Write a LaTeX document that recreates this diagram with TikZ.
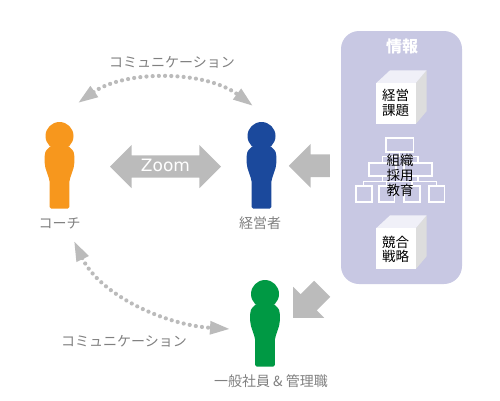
\documentclass[tikz,border=0pt]{standalone}
\usepackage{fontspec}
\setmainfont{Noto Sans CJK JP}
\newfontfamily\latinfont{DejaVu Sans}
\usepackage{tikz}
\usetikzlibrary{
  arrows.meta,
  positioning,
  shapes.arrows
}
\definecolor{coachorange}{RGB}{247,151,29}
\definecolor{ceoblue}{RGB}{27,73,156}
\definecolor{staffgreen}{RGB}{0,153,68}
\definecolor{panelblue}{RGB}{200,200,227}
\definecolor{arrowgray}{RGB}{187,187,187}
\definecolor{labelgray}{RGB}{128,128,128}
\definecolor{sidegray}{RGB}{221,221,221}
\definecolor{topwhite}{RGB}{240,240,248}

\tikzset{
  label/.style={text=labelgray, font=\fontsize{14}{14}\selectfont, inner sep=0pt},
  boxtext/.style={text=black, font=\fontsize{13.5}{14.7}\selectfont, align=center, inner sep=0pt},
  bigarrow/.style={single arrow, fill=arrowgray, inner sep=0pt, minimum height=41pt,
    minimum width=43pt, single arrow head extend=10.5pt, single arrow tip angle=90, anchor=tip},
  talk/.style={arrowgray, line width=4.2pt, line cap=round, dash pattern=on 0pt off 6.2pt,
    {Triangle[length=20pt,width=12.5pt]}-{Triangle[length=20pt,width=12.5pt]}},
  orgbox/.style={draw=white, line width=1.8pt, inner sep=0pt},
  orgline/.style={draw=white, line width=1.2pt}
}

% figure of one person, head centre at #2
\newcommand{\personfig}[3]{
  \coordinate (#1) at (#2);
  \begin{scope}[shift={(#2)}]
    \fill[#3] (0,0) circle (14);
    \fill[#3] (-9.5,10.5) .. controls (-11,13) and (-14.8,13.5) .. (-14.8,20)
      -- (-14.8,27) .. controls (-14.8,33) and (-10.5,40) .. (-9.8,46)
      -- (-9.8,71) .. controls (-9.8,72) and (-9.3,72.5) .. (-8.3,72.5)
      -- (8.3,72.5) .. controls (9.3,72.5) and (9.8,72) .. (9.8,71)
      -- (9.8,46) .. controls (10.5,40) and (14.8,33) .. (14.8,27)
      -- (14.8,20) .. controls (14.8,13.5) and (11,13) .. (9.5,10.5) -- cycle;
  \end{scope}
}

% box with depth
\newcommand{\cubefig}[2]{
  \fill[sidegray] (#1,#2) ++(39.5,0) -- ++(11,-13) -- ++(0,41) -- ++(-11,13) -- cycle;
  \fill[topwhite] (#1,#2) -- ++(14,-13) -- ++(36.5,0) -- ++(-11,13) -- cycle;
  \fill[white] (#1,#2) rectangle ++(39.5,41);
}

\begin{document}
\begin{tikzpicture}[x=1pt,y=-1pt]
  \useasboundingbox (0,0) rectangle (500,400);

  % info panel
  \fill[panelblue, rounded corners=18pt] (341,31) rectangle (462,284);
  \node[text=white, font=\bfseries\fontsize{16}{16}\selectfont, inner sep=0pt] (infotitle) at (402,46) {情報};

  % boxes
  \cubefig{376}{83.3}
  \node[boxtext] (issues) at (395.5,103) {経営\\課題};
  \cubefig{376}{228.4}
  \node[boxtext] (strategy) at (395.5,249.3) {競合\\戦略};

  % org chart
  \node[orgbox, minimum width=27.5pt, minimum height=14.2pt] (orgtop) at (399.7,144.7) {};
  \node[orgbox, minimum width=27.3pt, minimum height=13.2pt] (orgleft) at (382.5,169.2) {};
  \node[orgbox, minimum width=27.3pt, minimum height=13.2pt] (orgright) at (418,169.2) {};
  \foreach \px/\pname in {363.8/a,386.5/b,412/c,436.5/d}
    \node[orgbox, minimum width=15.8pt, minimum height=15.8pt] (org\pname) at (\px,194) {};
  \coordinate (orgjoin) at (399.7,156.7);
  \coordinate (orgjoinb) at (399.7,181.7);
  \draw[orgline] (orgtop.south) -- (orgjoin);
  \draw[orgline] (orgleft.north) |- (orgjoin) -| (orgright.north);
  \draw[orgline] (orgleft.south) -- (orgleft.south |- orgjoinb);
  \draw[orgline] (orgright.south) -- (orgright.south |- orgjoinb);
  \draw[orgline] (orga.north) |- (orgjoinb) -| (orgd.north);
  \draw[orgline] (orgb.north) -- (orgb.north |- orgjoinb);
  \draw[orgline] (orgc.north) -- (orgc.north |- orgjoinb);
  \node[boxtext, font=\fontsize{13.5}{15}\selectfont] (orgtext) at (400,175) {組織\\採用\\教育};

  % people
  \personfig{coach}{59.5,136}{coachorange}
  \personfig{ceo}{261.5,136}{ceoblue}
  \personfig{staff}{265,294}{staffgreen}
  \node[label] (coachlabel) at (59.5,223) {コーチ};
  \node[label] (ceolabel) at (260,223) {経営者};
  \node[label] (stafflabel) at (271,381) {一般社員 \& 管理職};

  % big arrows
  \node[double arrow, fill=arrowgray, inner sep=0pt, minimum height=111pt, minimum width=43pt,
    double arrow head extend=10.5pt, double arrow tip angle=90, text=white,
    font=\latinfont\fontsize{17}{17}\selectfont] (zoomarrow) at (165.5,166.5) {\rule[-6pt]{0pt}{22pt}Zoom};
  \node[bigarrow, shape border rotate=180] (infoceo) at (288.5,165.8) {\rule{0pt}{22.4pt}};
  \node[bigarrow, rotate=-135] (infostaff) at (293,318) {\rule{0pt}{22.4pt}};

  % communication arrows
  \coordinate (talkcoach) at (78,103);
  \coordinate (talkceo) at (253,106);
  \coordinate (talkcoachb) at (74,241);
  \coordinate (talkstaff) at (230,329);
  \draw[talk] (talkcoach) .. controls (125,70) and (205,70) .. (talkceo);
  \draw[talk] (talkcoachb) .. controls (100,295) and (165,325) .. (talkstaff);
  \node[label] (talktop) at (172,62) {コミュニケーション};
  \node[label] (talkbottom) at (124,341) {コミュニケーション};
\end{tikzpicture}
\end{document}
